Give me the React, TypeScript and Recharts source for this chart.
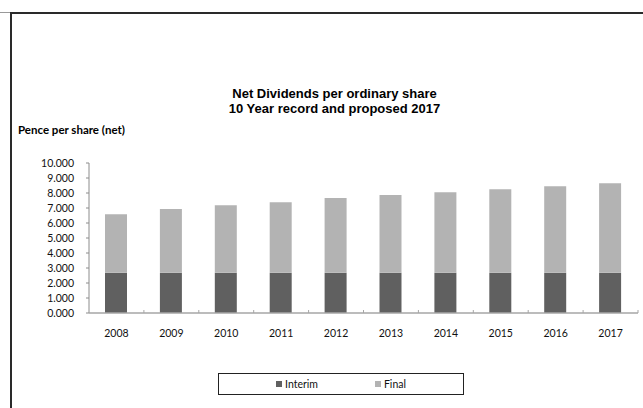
import React from 'react';
import { BarChart, Bar, XAxis, YAxis, Legend } from 'recharts';

const years = ['2008', '2009', '2010', '2011', '2012', '2013', '2014', '2015', '2016', '2017'];
const interimValues = [2.68, 2.68, 2.68, 2.68, 2.68, 2.68, 2.68, 2.68, 2.68, 2.68];
const finalValues = [3.91, 4.25, 4.51, 4.71, 4.98, 5.18, 5.37, 5.57, 5.77, 5.97];
const yTicks = [0, 1, 2, 3, 4, 5, 6, 7, 8, 9, 10];
const seriesNames = ['Interim', 'Final'];
const titleLine1 = 'Net Dividends per ordinary share';
const titleLine2 = '10 Year record and proposed 2017';
const yAxisTitle = 'Pence per share (net)';

const COLOR_INTERIM = '#606060';
const COLOR_FINAL = '#b3b3b3';
const FONT = 'Lato, "Open Sans", sans-serif';

const data = years.map((year, i) => ({
  year,
  Interim: interimValues[i],
  Final: finalValues[i],
}));

const XTick = (props: any) => {
  const { x, y, payload } = props;
  const half = payload && typeof payload.offset === 'number' ? payload.offset : 27.45;
  return (
    <g>
      <line x1={x + half} x2={x + half} y1={y - 3} y2={y} stroke="#a6a6a6" strokeWidth={1} />
      <text x={x} y={y + 20} dy="0.355em" textAnchor="middle" fontSize={10.5} fontFamily={FONT} fill="#111">
        {payload.value}
      </text>
    </g>
  );
};

const LegendBox = (props: any) => {
  const payload = [...(props.payload || [])].sort(
    (a: any, b: any) => seriesNames.indexOf(a.value) - seriesNames.indexOf(b.value)
  );
  return (
    <div
      style={{
        boxSizing: 'border-box',
        width: 246,
        height: 22,
        border: '1px solid #222',
        display: 'flex',
        alignItems: 'center',
        justifyContent: 'center',
        fontFamily: FONT,
        fontSize: 10.5,
        color: '#111',
      }}
    >
      {payload.map((p: any, i: number) => (
        <div key={p.value} style={{ display: 'flex', alignItems: 'center', marginLeft: i === 0 ? 0 : 57 }}>
          <span style={{ display: 'inline-block', width: 6, height: 6, background: p.color, marginRight: 3 }} />
          <span>{p.value}</span>
        </div>
      ))}
    </div>
  );
};

export default function App() {
  return (
    <div style={{ position: 'absolute', left: 0, top: 0, width: 643, height: 408, background: '#fff', overflow: 'hidden' }}>
      <div style={{ position: 'absolute', left: 0, top: 12, width: 10, height: 1, background: '#999' }} />
      <div style={{ position: 'absolute', left: 10, top: 12, width: 633, height: 2, background: '#2a2a2a' }} />
      <div style={{ position: 'absolute', left: 10, top: 12, width: 2, height: 396, background: '#2a2a2a' }} />
      <div
        style={{
          position: 'absolute',
          left: 0,
          width: 643,
          top: 86,
          textAlign: 'center',
          fontFamily: '"Liberation Sans", Arial, sans-serif',
          fontWeight: 'bold',
          fontSize: 13,
          lineHeight: '15px',
          color: '#000',
          paddingLeft: 26,
          boxSizing: 'border-box',
        }}
      >
        <div>{titleLine1}</div>
        <div>{titleLine2}</div>
      </div>
      <div
        style={{
          position: 'absolute',
          left: 18,
          top: 123,
          fontFamily: FONT,
          fontWeight: 'bold',
          fontSize: 11.5,
          color: '#000',
          whiteSpace: 'nowrap',
        }}
      >
        {yAxisTitle}
      </div>
      <div style={{ position: 'absolute', left: 0, top: 0 }}>
        <BarChart width={643} height={408} data={data} margin={{ top: 163, right: 5, bottom: 65, left: 0 }} barSize={22}>
          <YAxis
            width={89}
            domain={[0, 10]}
            ticks={yTicks}
            interval={0}
            tickFormatter={(v: number) => v.toFixed(3)}
            tickSize={3}
            tickMargin={12}
            tick={{ fontSize: 10.5, fontFamily: FONT, fill: '#111' }}
            axisLine={{ stroke: '#8c8c8c' }}
            tickLine={{ stroke: '#8c8c8c' }}
          />
          <XAxis
            dataKey="year"
            height={30}
            interval={0}
            tickSize={0}
            tickMargin={0}
            tickLine={false}
            axisLine={{ stroke: '#a6a6a6', strokeWidth: 1.5 }}
            tick={<XTick />}
          />
          <Legend
            layout="horizontal"
            verticalAlign="middle"
            align="center"
            content={<LegendBox />}
            wrapperStyle={{ left: 218, top: 373, width: 246, height: 22 }}
          />
          <Bar dataKey="Interim" stackId="a" fill={COLOR_INTERIM} isAnimationActive={false} />
          <Bar dataKey="Final" stackId="a" fill={COLOR_FINAL} isAnimationActive={false} />
        </BarChart>
      </div>
    </div>
  );
}
